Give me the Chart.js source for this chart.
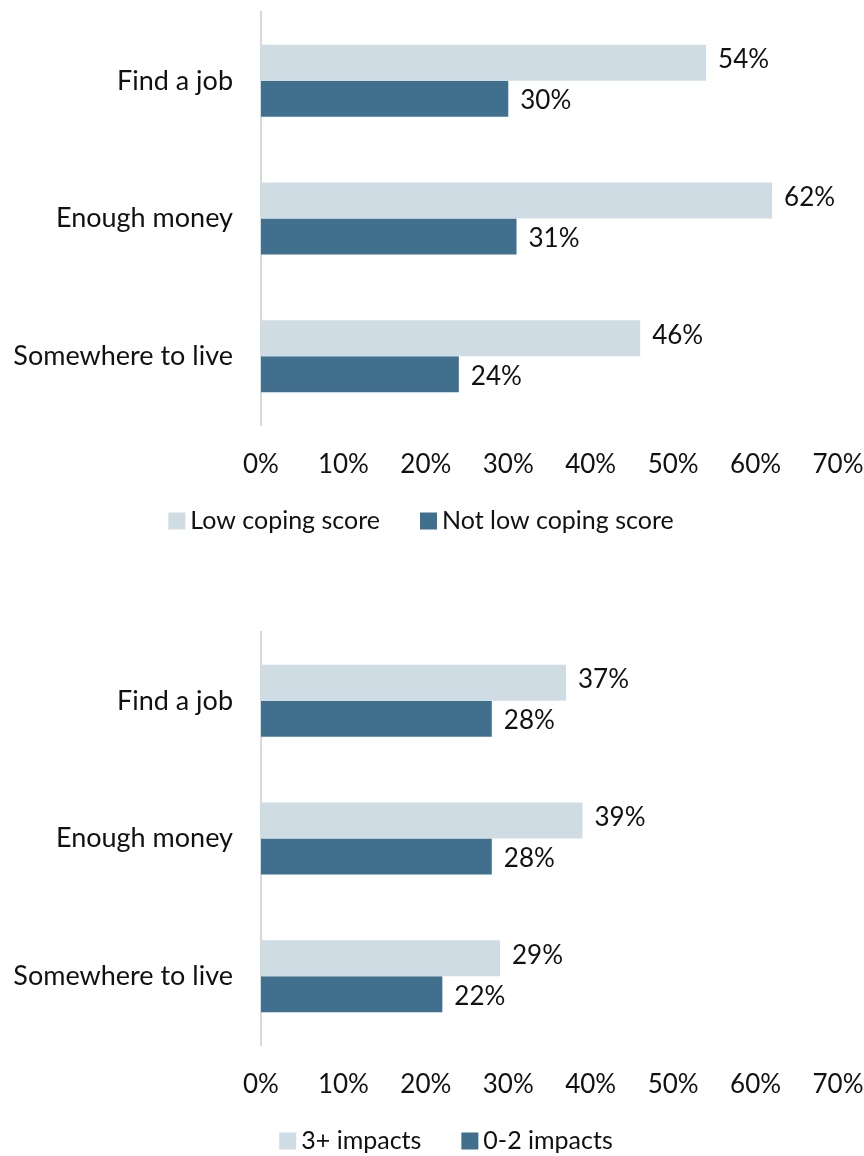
<!DOCTYPE html>
<html><head><meta charset="utf-8">
<script src="https://cdn.jsdelivr.net/npm/chart.js@4/dist/chart.umd.min.js"></script>
<style>
html,body{margin:0;padding:0;background:#fff;}
.wrap{position:absolute;left:0;width:864px;height:578px;}
</style></head>
<body>
<div class="wrap" style="top:0"><canvas id="c1"></canvas></div>
<div class="wrap" style="top:620px"><canvas id="c2"></canvas></div>
<script>
const categories = ["Find a job", "Enough money", "Somewhere to live"];
const tickValues = [0, 10, 20, 30, 40, 50, 60, 70];
const chart1Series = ["Low coping score", "Not low coping score"];
const chart1Light = [54, 62, 46];
const chart1Dark = [30, 31, 24];
const chart2Series = ["3+ impacts", "0-2 impacts"];
const chart2Light = [37, 39, 29];
const chart2Dark = [28, 28, 22];

const LIGHT = "#D0DCE4";
const DARK = "#41708F";
const FONT = "Lato, 'Liberation Sans', sans-serif";
const FS = 25;
const FS_CAT = 27;
const FS_TICK = 26;
const FS_VAL = 26;
const TXT = "#111111";

const labelPlugin = {
  id: 'valLabels',
  afterDatasetsDraw(chart) {
    const ctx = chart.ctx;
    ctx.save();
    ctx.font = FS_VAL + "px " + FONT;
    ctx.fillStyle = TXT;
    ctx.textAlign = "left";
    ctx.textBaseline = "middle";
    chart.data.datasets.forEach((ds, i) => {
      const meta = chart.getDatasetMeta(i);
      const dy = i === 0 ? -3 : 2;
      meta.data.forEach((bar, j) => {
        ctx.fillText(ds.data[j] + "%", bar.x + 12, bar.y + dy);
      });
    });
    ctx.restore();
  }
};

const legendPlugin = {
  id: 'customLegend',
  afterDraw(chart, args, opts) {
    const ctx = chart.ctx;
    ctx.save();
    ctx.font = FS + "px " + FONT;
    ctx.textBaseline = "middle";
    ctx.textAlign = "left";
    const box = 17, gapText = 5, gapItem = 40;
    const items = chart.data.datasets.map(ds => ({text: ds.label, color: ds.backgroundColor}));
    let total = 0;
    items.forEach((it, i) => {
      it.w = ctx.measureText(it.text).width;
      total += box + gapText + it.w + (i < items.length - 1 ? gapItem : 0);
    });
    let x = opts.centerX - total / 2;
    const y = opts.centerY;
    items.forEach(it => {
      ctx.fillStyle = it.color;
      ctx.fillRect(x, y - box / 2, box, box);
      x += box + gapText;
      ctx.fillStyle = TXT;
      ctx.fillText(it.text, x, y);
      x += it.w + gapItem;
    });
    ctx.restore();
  }
};

function make(id, names, light, dark, legendCenterX) {
  return new Chart(document.getElementById(id), {
    type: 'bar',
    data: {
      labels: categories,
      datasets: [
        {label: names[0], data: light, backgroundColor: LIGHT, borderWidth: 0},
        {label: names[1], data: dark, backgroundColor: DARK, borderWidth: 0}
      ]
    },
    plugins: [labelPlugin, legendPlugin],
    options: {
      indexAxis: 'y',
      responsive: true,
      maintainAspectRatio: false,
      animation: false,
      devicePixelRatio: 1,
      layout: {padding: {top: 12, right: 26, left: 0, bottom: 88}},
      datasets: {bar: {categoryPercentage: 0.523, barPercentage: 1.0}},
      scales: {
        x: {
          min: 0, max: 70,
          afterBuildTicks(axis) { axis.ticks = tickValues.map(v => ({value: v})); },
          afterFit(axis) { axis.height = 65; axis.paddingLeft = 0; axis.paddingRight = 0; },
          grid: {display: false, drawTicks: false},
          border: {display: false},
          ticks: {font: {family: FONT, size: FS_TICK}, color: TXT, padding: 24, maxRotation: 0, callback: v => v + "%"}
        },
        y: {
          afterFit(axis) { axis.width = 261; axis.paddingTop = 0; axis.paddingBottom = 0; },
          grid: {display: false, drawTicks: false},
          border: {display: true, color: "#D9D9D9", width: 2},
          ticks: {font: {family: FONT, size: FS_CAT}, color: TXT, padding: 28}
        }
      },
      plugins: {
        legend: {display: false},
        tooltip: {enabled: false},
        customLegend: {centerX: legendCenterX, centerY: 521}
      }
    }
  });
}
make('c1', chart1Series, chart1Light, chart1Dark, 421);
make('c2', chart2Series, chart2Light, chart2Dark, 446);
</script>
</body></html>
